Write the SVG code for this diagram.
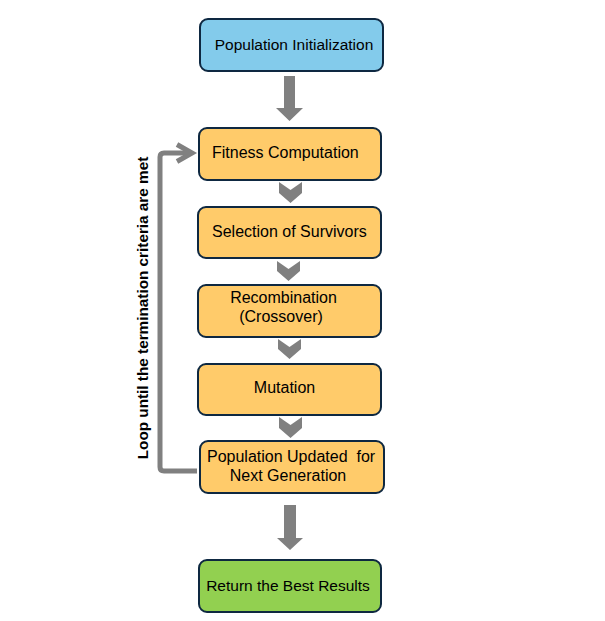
<svg xmlns="http://www.w3.org/2000/svg" width="605" height="621" viewBox="0 0 605 621">
<style>
.box{stroke:#0E2841;stroke-width:2}
.blue{fill:#83CBEB}
.orange{fill:#FFCB6A}
.green{fill:#92D050}
.t{font-family:"Liberation Sans",Arial,sans-serif;font-size:16px;fill:#000}
.t2{font-family:"Liberation Sans",Arial,sans-serif;font-size:15.5px;fill:#000}
.arrow{fill:#808080}
.loop{fill:none;stroke:#808080;stroke-width:5}
.lbl{font-family:"Liberation Sans",Arial,sans-serif;font-size:15.3px;font-weight:bold;fill:#000}
</style>
<rect width="605" height="621" fill="#fff"/>
<g id="connectors">
<polygon class="arrow" points="284,76 295,76 295,108 303,108 289.5,121 276,108 284,108"/>
<polygon class="arrow" points="279,182 290.5,190 302,182 302,193 290.5,203 279,193"/>
<polygon class="arrow" points="277,261 288.5,269 300,261 300,271 288.5,281 277,271"/>
<polygon class="arrow" points="278,339 289.5,347 301,339 301,349 289.5,359 278,349"/>
<polygon class="arrow" points="279,417 290.5,425 302,417 302,428 290.5,438 279,428"/>
<polygon class="arrow" points="284,505 296,505 296,538 303,538 290,550 277,538 284,538"/>
<path class="loop" d="M197,471 L164,471 Q160,471 160,467 L160,157 Q160,153 164,153 L191,153"/>
<polyline class="loop" points="177,144.5 192,153 177,161.5" stroke-linejoin="miter"/>
<text class="lbl" transform="translate(147.5,308) rotate(-90)" text-anchor="middle">Loop until the termination criteria are met</text>
</g>
<g id="node-init">
<rect class="box blue" x="200" y="19" width="183" height="52" rx="8"/>
<text class="t2" x="294" y="50" text-anchor="middle">Population Initialization</text>
</g>
<g id="node-fitness">
<rect class="box orange" x="199" y="128" width="182" height="52" rx="8"/>
<text class="t" x="212" y="158">Fitness Computation</text>
</g>
<g id="node-selection">
<rect class="box orange" x="198" y="207" width="183" height="51" rx="8"/>
<text class="t" x="212" y="236.5">Selection of Survivors</text>
</g>
<g id="node-recombination">
<rect class="box orange" x="198" y="285" width="183" height="52" rx="8"/>
<text class="t" x="283.5" y="303" text-anchor="middle">Recombination</text>
<text class="t" x="281" y="322" text-anchor="middle">(Crossover)</text>
</g>
<g id="node-mutation">
<rect class="box orange" x="198" y="364" width="183" height="51" rx="8"/>
<text class="t" x="284.5" y="393" text-anchor="middle">Mutation</text>
</g>
<g id="node-update">
<rect class="box orange" x="200" y="441" width="184" height="52" rx="8"/>
<text class="t" x="207" y="461.5" xml:space="preserve" style="white-space:pre">Population Updated  for</text>
<text class="t" x="288" y="481" text-anchor="middle">Next Generation</text>
</g>
<g id="node-return">
<rect class="box green" x="199" y="560" width="182" height="52" rx="8"/>
<text class="t2" x="288" y="591" text-anchor="middle">Return the Best Results</text>
</g>
</svg>
